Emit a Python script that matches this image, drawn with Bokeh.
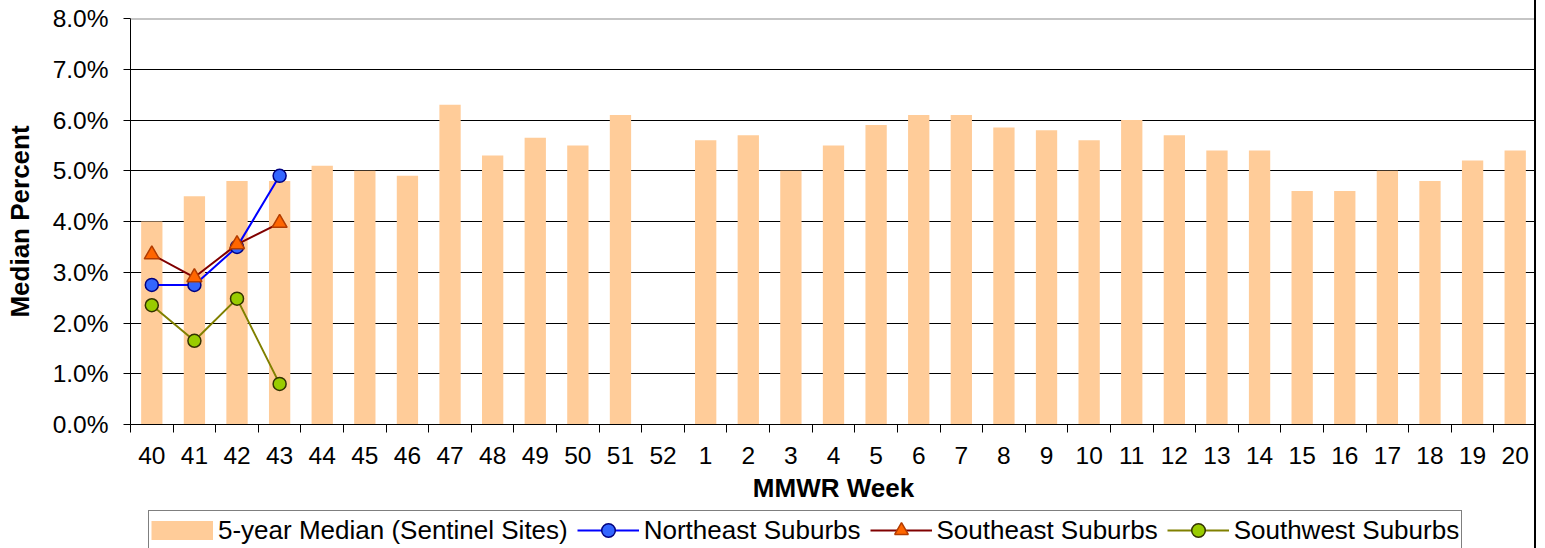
import numpy as np
from bokeh.plotting import figure
from bokeh.layouts import column
from bokeh.models import (FixedTicker, PrintfTickFormatter, CustomJSTickFormatter, Legend,
                          LegendItem, Span, Range1d, ColumnDataSource)
from bokeh.embed import file_html
from bokeh.resources import INLINE

# ---- data ----
weeks = ["40", "41", "42", "43", "44", "45", "46", "47", "48", "49", "50", "51", "52",
         "1", "2", "3", "4", "5", "6", "7", "8", "9", "10", "11", "12", "13", "14",
         "15", "16", "17", "18", "19", "20"]
median_5yr = [4.0, 4.5, 4.8, 4.8, 5.1, 5.0, 4.9, 6.3, 5.3, 5.65, 5.5, 6.1, None,
              5.6, 5.7, 5.0, 5.5, 5.9, 6.1, 6.1, 5.85, 5.8, 5.6, 6.0, 5.7, 5.4, 5.4,
              4.6, 4.6, 5.0, 4.8, 5.2, 5.4]
series_weeks = ["40", "41", "42", "43"]
northeast = [2.75, 2.75, 3.5, 4.9]
southeast = [3.35, 2.9, 3.55, 3.97]
southwest = [2.35, 1.65, 2.48, 0.8]
y_ticks = [0, 1, 2, 3, 4, 5, 6, 7, 8]
legend_labels = ["5-year Median (Sentinel Sites)", "Northeast Suburbs",
                 "Southeast Suburbs", "Southwest Suburbs"]

FONT = "Liberation Sans"
BAR_COLOR = "#FFCC99"
NE_LINE = dict(line_color="#0000FF", line_width=2)
NE_MARK = dict(marker="circle", fill_color="#3366FF", line_color="#000080", line_width=1.5)
SE_LINE = dict(line_color="#800000", line_width=2)
SE_MARK = dict(marker="triangle", fill_color="#FF6600", line_color="#B33C00", line_width=1.5)
SW_LINE = dict(line_color="#808000", line_width=2)
SW_MARK = dict(marker="circle", fill_color="#99CC00", line_color="#333300", line_width=1.5)

x_all = list(range(len(weeks)))
bar_src = ColumnDataSource(dict(x=x_all, top=np.array(median_5yr, dtype=float)))
x_ser = [weeks.index(w) for w in series_weeks]

p = figure(width=1536, height=508,
           x_range=Range1d(-0.5, len(weeks) - 0.5), y_range=Range1d(y_ticks[0], y_ticks[-1]),
           output_backend="svg", toolbar_location=None,
           min_border_left=130, min_border_right=0, min_border_top=18, min_border_bottom=84)
p.outline_line_color = None
p.background_fill_color = "white"
p.border_fill_color = "white"
p.styles = {"border-right": "2px solid black"}

# grid
p.xgrid.visible = False
p.ygrid.ticker = FixedTicker(ticks=y_ticks[1:-1])
p.ygrid.grid_line_color = "black"
p.ygrid.grid_line_width = 1
p.add_layout(Span(location=y_ticks[-1], dimension="width", line_color="#8c8c8c", line_width=2))

# bars
p.vbar(x="x", top="top", width=0.5, source=bar_src, fill_color=BAR_COLOR, line_color=None)

# lines
p.line(x_ser, northeast, **NE_LINE)
p.scatter(x_ser, northeast, size=13, **NE_MARK)
p.line(x_ser, southeast, **SE_LINE)
p.scatter(x_ser, southeast, size=15, **SE_MARK)
p.line(x_ser, southwest, **SW_LINE)
p.scatter(x_ser, southwest, size=13, **SW_MARK)

# x axis
xa = p.xaxis[0]
xa.ticker = FixedTicker(ticks=x_all, minor_ticks=[i - 0.5 for i in range(len(weeks) + 1)])
xa.formatter = CustomJSTickFormatter(args=dict(labels=weeks),
                                     code="const i = Math.round(tick); return (i >= 0 && i < labels.length) ? labels[i] : '';")
xa.major_tick_out = 0
xa.major_tick_in = 0
xa.minor_tick_out = 8
xa.minor_tick_in = 0
xa.minor_tick_line_color = "black"
xa.axis_line_color = "black"
xa.major_label_standoff = 14
xa.major_label_text_font = FONT
xa.major_label_text_font_size = "24.5px"
xa.major_label_text_color = "black"
xa.axis_label = "MMWR Week"
xa.axis_label_text_font = FONT
xa.axis_label_text_font_style = "bold"
xa.axis_label_text_font_size = "26px"
xa.axis_label_text_color = "black"
xa.axis_label_standoff = 6

# y axis
ya = p.yaxis[0]
ya.ticker = FixedTicker(ticks=y_ticks)
ya.formatter = PrintfTickFormatter(format="%.1f%%")
ya.major_tick_out = 7
ya.major_tick_in = 0
ya.minor_tick_out = 0
ya.minor_tick_in = 0
ya.major_tick_line_color = "black"
ya.axis_line_color = "black"
ya.major_label_standoff = 15
ya.major_label_text_font = FONT
ya.major_label_text_font_size = "24.5px"
ya.major_label_text_color = "black"
ya.axis_label = "Median Percent"
ya.axis_label_text_font = FONT
ya.axis_label_text_font_style = "bold"
ya.axis_label_text_font_size = "26px"
ya.axis_label_text_color = "black"
ya.axis_label_standoff = 15

# ---- legend strip (separate canvas so the box is not clipped by the plot frame) ----
# Its renderers hold the same data but the strip's y range lies below all values,
# so only their legend samples are visible.
pl = figure(width=1536, height=40, x_range=Range1d(-0.5, len(weeks) - 0.5), y_range=Range1d(-3, -2),
            x_axis_type=None, y_axis_type=None, output_backend="svg", toolbar_location=None,
            min_border_left=0, min_border_right=0, min_border_top=0, min_border_bottom=0)
pl.outline_line_color = None
pl.background_fill_color = "white"
pl.border_fill_color = "white"
pl.styles = {"border-right": "2px solid black"}

lb = pl.line(x="x", y="top", source=bar_src, line_color=BAR_COLOR, line_width=19, line_cap="butt")
l1 = pl.line(x_ser, northeast, **NE_LINE)
s1 = pl.scatter(x_ser, northeast, size=13, **NE_MARK)
l2 = pl.line(x_ser, southeast, **SE_LINE)
s2 = pl.scatter(x_ser, southeast, size=15, **SE_MARK)
l3 = pl.line(x_ser, southwest, **SW_LINE)
s3 = pl.scatter(x_ser, southwest, size=13, **SW_MARK)

items = [
    LegendItem(label=legend_labels[0], renderers=[lb]),
    LegendItem(label=legend_labels[1], renderers=[l1, s1]),
    LegendItem(label=legend_labels[2], renderers=[l2, s2]),
    LegendItem(label=legend_labels[3], renderers=[l3, s3]),
]
legend = Legend(items=items, orientation="horizontal", location=(18, -2),
                glyph_width=62, glyph_height=34, label_height=34, label_standoff=5,
                spacing=9, padding=2,
                border_line_color="black", border_line_width=1,
                background_fill_color="white", background_fill_alpha=1,
                label_text_font=FONT, label_text_font_size="26px", label_text_color="black",
                margin=0)
pl.add_layout(legend)

layout = column(p, pl, spacing=0)
open("out.html", "w").write(file_html(layout, INLINE))
